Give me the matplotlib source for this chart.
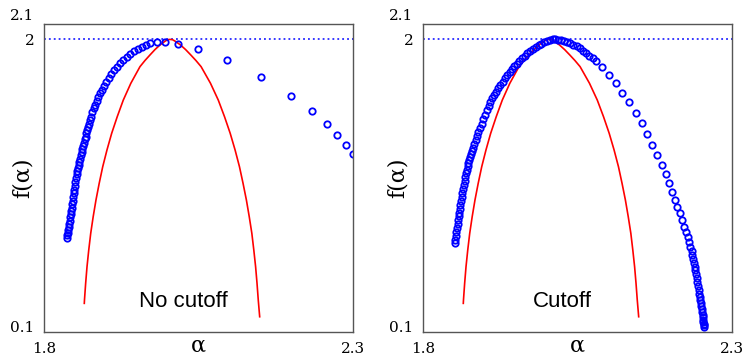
import matplotlib
matplotlib.use("Agg")
import matplotlib.pyplot as plt
import matplotlib.transforms as mtransforms

# f(alpha) spectrum, no cutoff (left panel)
alpha_nc = [1.8368, 1.8376, 1.8384, 1.8392, 1.8400, 1.8408, 1.8416, 1.8424, 1.8432, 1.8440,
            1.8448, 1.8456, 1.8464, 1.8472, 1.8481, 1.8490, 1.8499, 1.8509, 1.8519, 1.8529,
            1.8539, 1.8549, 1.8560, 1.8571, 1.8583, 1.8595, 1.8607, 1.8620, 1.8633, 1.8646,
            1.8659, 1.8672, 1.8686, 1.8700, 1.8715, 1.8730, 1.8745, 1.8760, 1.8782, 1.8805,
            1.8830, 1.8855, 1.8880, 1.8910, 1.8940, 1.8975, 1.9010, 1.9050, 1.9090, 1.9135,
            1.9180, 1.9230, 1.9280, 1.9335, 1.9390, 1.9450, 1.9515, 1.9580, 1.9645, 1.9715,
            1.9824, 1.9960, 2.0173, 2.0497, 2.0966, 2.1516, 2.1997, 2.2332, 2.2575, 2.2747,
            2.2893, 2.2995]
f_nc = [0.710, 0.728, 0.746, 0.765, 0.784, 0.804, 0.824, 0.845, 0.866, 0.887,
        0.908, 0.930, 0.953, 0.976, 1.000, 1.025, 1.050, 1.075, 1.100, 1.125,
        1.143, 1.163, 1.184, 1.205, 1.226, 1.247, 1.268, 1.289, 1.310, 1.330,
        1.350, 1.369, 1.390, 1.410, 1.431, 1.453, 1.475, 1.497, 1.528, 1.552,
        1.576, 1.600, 1.625, 1.649, 1.673, 1.697, 1.721, 1.748, 1.775, 1.802,
        1.824, 1.845, 1.866, 1.888, 1.905, 1.922, 1.937, 1.951, 1.964, 1.975,
        1.984, 1.983, 1.970, 1.936, 1.866, 1.756, 1.634, 1.533, 1.451, 1.379,
        1.314, 1.256]

# f(alpha) spectrum with cutoff (right panel)
alpha_c = [1.8513, 1.8522, 1.8531, 1.8540, 1.8550, 1.8559, 1.8568, 1.8578, 1.8587, 1.8597,
           1.8606, 1.8616, 1.8626, 1.8638, 1.8650, 1.8662, 1.8674, 1.8687, 1.8700, 1.8713,
           1.8723, 1.8733, 1.8747, 1.8761, 1.8776, 1.8791, 1.8810, 1.8830, 1.8852, 1.8875,
           1.8898, 1.8922, 1.8948, 1.8975, 1.9003, 1.9031, 1.9060, 1.9090, 1.9121, 1.9153,
           1.9185, 1.9218, 1.9254, 1.9290, 1.9327, 1.9365, 1.9402, 1.9440, 1.9480, 1.9520,
           1.9558, 1.9601, 1.9645, 1.9688, 1.9735, 1.9782, 1.9828, 1.9871, 1.9915, 1.9958,
           2.0005, 2.0052, 2.0099, 2.0144, 2.0189, 2.0233, 2.0282, 2.0330, 2.0379, 2.0433,
           2.0487, 2.0535, 2.0584, 2.0638, 2.0691, 2.0743, 2.0795, 2.0901, 2.1010, 2.1118,
           2.1225, 2.1333, 2.1442, 2.1539, 2.1629, 2.1710, 2.1791, 2.1862, 2.1932, 2.1985,
           2.2034, 2.2078, 2.2115, 2.2159, 2.2196, 2.2228, 2.2256, 2.2283, 2.2304, 2.2325,
           2.2348, 2.2360, 2.2372, 2.2384, 2.2396, 2.2407, 2.2418, 2.2429, 2.2440, 2.2451,
           2.2463, 2.2474, 2.2482, 2.2489, 2.2496, 2.2503, 2.2510, 2.2517, 2.2523, 2.2529,
           2.2534, 2.2538, 2.2542, 2.2545, 2.2547]
f_c = [0.676, 0.700, 0.725, 0.750, 0.775, 0.800, 0.825, 0.850, 0.875, 0.900,
       0.925, 0.950, 0.979, 1.005, 1.030, 1.055, 1.080, 1.105, 1.130, 1.155,
       1.175, 1.195, 1.215, 1.235, 1.255, 1.275, 1.298, 1.321, 1.345, 1.371,
       1.397, 1.424, 1.453, 1.482, 1.511, 1.540, 1.566, 1.592, 1.618, 1.640,
       1.661, 1.682, 1.704, 1.725, 1.747, 1.767, 1.787, 1.806, 1.825, 1.843,
       1.860, 1.877, 1.893, 1.910, 1.925, 1.939, 1.953, 1.963, 1.972, 1.981,
       1.989, 1.995, 2.001, 2.001, 1.999, 1.996, 1.990, 1.983, 1.975, 1.966,
       1.957, 1.942, 1.927, 1.910, 1.892, 1.877, 1.862, 1.819, 1.769, 1.715,
       1.654, 1.592, 1.524, 1.455, 1.386, 1.316, 1.249, 1.184, 1.126, 1.066,
       1.011, 0.957, 0.914, 0.871, 0.827, 0.784, 0.747, 0.715, 0.682, 0.654,
       0.626, 0.600, 0.575, 0.550, 0.525, 0.500, 0.475, 0.450, 0.425, 0.400,
       0.375, 0.350, 0.330, 0.310, 0.290, 0.270, 0.250, 0.230, 0.212, 0.195,
       0.180, 0.166, 0.154, 0.143, 0.134]

# theoretical curve (red), same in both panels
alpha_th = [1.8652, 1.8655, 1.8674, 1.8696, 1.8724, 1.8756, 1.8796, 1.8841, 1.8893, 1.8950,
            1.9019, 1.9095, 1.9185, 1.9283, 1.9405, 1.9553, 1.9634, 1.9715, 1.9796, 1.9877,
            1.9958, 2.0000, 2.0039, 2.0080, 2.0124, 2.0208, 2.0291, 2.0375, 2.0458, 2.0542,
            2.0694, 2.0820, 2.0921, 2.1013, 2.1092, 2.1163, 2.1221, 2.1275, 2.1321, 2.1363,
            2.1395, 2.1424, 2.1447, 2.1467, 2.1490]
f_th = [0.286, 0.308, 0.416, 0.524, 0.632, 0.741, 0.849, 0.957, 1.065, 1.173,
        1.282, 1.390, 1.498, 1.606, 1.715, 1.823, 1.863, 1.899, 1.934, 1.964,
        1.988, 1.998, 2.000, 1.998, 1.988, 1.964, 1.934, 1.899, 1.863, 1.823,
        1.715, 1.606, 1.498, 1.390, 1.282, 1.173, 1.065, 0.957, 0.849, 0.741,
        0.632, 0.524, 0.416, 0.308, 0.199]

panels = [("No cutoff", alpha_nc, f_nc, -0.070), ("Cutoff", alpha_c, f_c, -0.081)]
x_ticks = [1.8, 2.3]
y_ticks = [0.1, 2.0, 2.1]
y_ticklabels = ["0.1", "2", "2.1"]

fig = plt.figure(figsize=(7.46, 3.62), dpi=100)
lefts = [44 / 746, 423 / 746]

for (title, a, f, ylab_x), left in zip(panels, lefts):
    ax = fig.add_axes([left, 30 / 362, 309 / 746, 308 / 362])

    ax.axhline(2.0, color="blue", linestyle=(0, (1.2, 2.0)), linewidth=1.1)
    ax.plot(alpha_th, f_th, color="red", linewidth=1.2)
    ax.plot(a, f, linestyle="none", marker="o", markersize=4.6,
            markerfacecolor="none", markeredgecolor="blue", markeredgewidth=1.3)

    ax.set_xlim(1.8, 2.3)
    ax.set_ylim(0.1, 2.1)
    ax.set_xticks(x_ticks, ["1.8", "2.3"])
    ax.set_yticks(y_ticks, y_ticklabels)
    ax.tick_params(length=0, labelsize=11, pad=7)
    for lab in ax.get_xticklabels() + ax.get_yticklabels():
        lab.set_family("DejaVu Serif")

    # nudge the end labels like in the original
    ylabs = ax.get_yticklabels()
    ylabs[2].set_transform(ylabs[2].get_transform()
                           + mtransforms.ScaledTranslation(0, 0.09, fig.dpi_scale_trans))
    ylabs[0].set_transform(ylabs[0].get_transform()
                           + mtransforms.ScaledTranslation(0, 0.05, fig.dpi_scale_trans))

    for s in ax.spines.values():
        s.set_color("#555555")
        s.set_linewidth(1.0)

    ax.set_xlabel("α", family="DejaVu Serif", fontsize=16, va="center")
    ax.xaxis.set_label_coords(0.5, -14 / 308)
    ax.set_ylabel("f(α)", family="DejaVu Serif", fontsize=16, va="center")
    ax.yaxis.set_label_coords(ylab_x, 0.5)
    ax.text(2.026, 0.30, title, family="Liberation Sans", fontsize=16,
            ha="center", va="center")

fig.savefig("out.png", dpi=100)
plt.close(fig)
